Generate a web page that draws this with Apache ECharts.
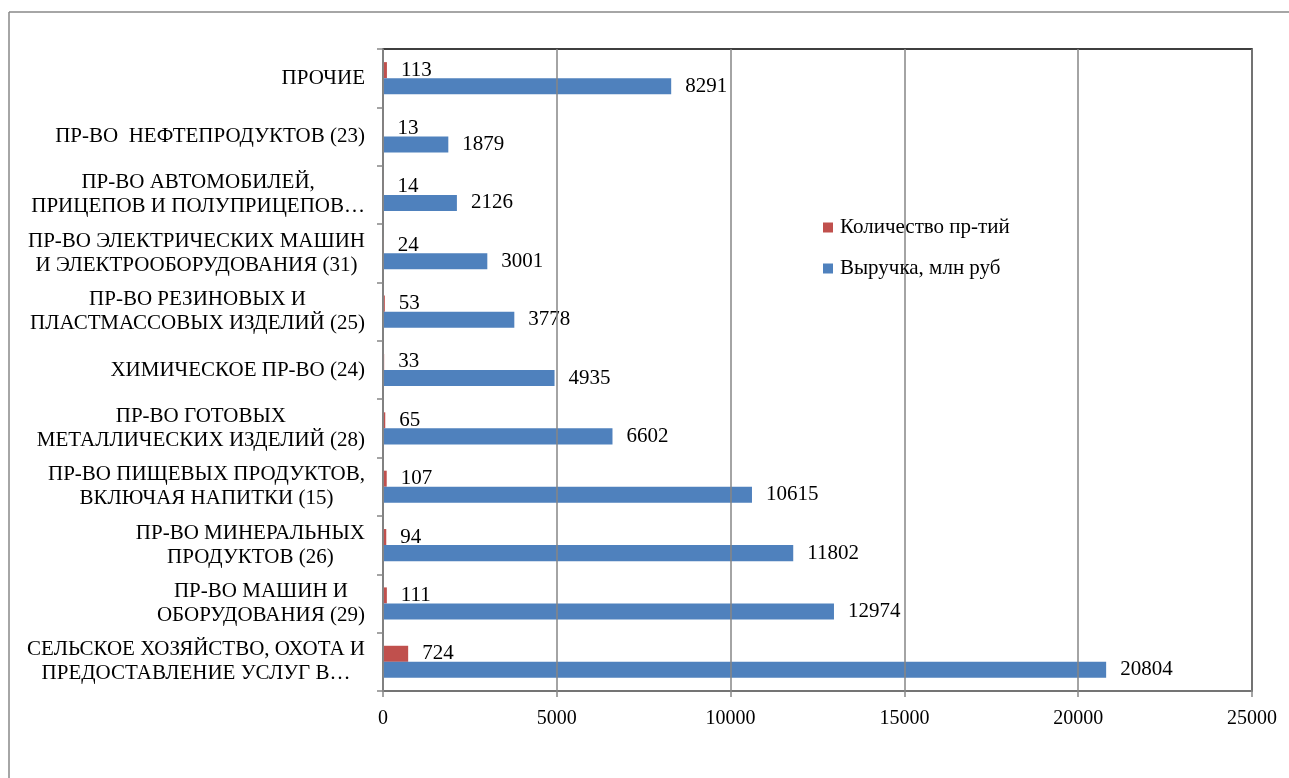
<!DOCTYPE html>
<html><head><meta charset="utf-8">
<script src="https://cdn.jsdelivr.net/npm/echarts@6/dist/echarts.min.js"></script>
<style>html,body{margin:0;padding:0;background:#fff;}#c{width:1289px;height:778px;}</style>
</head><body><div id="c"></div>
<script>
const categories = [
  'СЕЛЬСКОЕ ХОЗЯЙСТВО, ОХОТА И\nПРЕДОСТАВЛЕНИЕ УСЛУГ В…',
  'ПР-ВО МАШИН И\nОБОРУДОВАНИЯ (29)',
  'ПР-ВО МИНЕРАЛЬНЫХ\nПРОДУКТОВ (26)',
  'ПР-ВО ПИЩЕВЫХ ПРОДУКТОВ,\nВКЛЮЧАЯ НАПИТКИ (15)',
  'ПР-ВО ГОТОВЫХ\nМЕТАЛЛИЧЕСКИХ ИЗДЕЛИЙ (28)',
  'ХИМИЧЕСКОЕ ПР-ВО (24)',
  'ПР-ВО РЕЗИНОВЫХ И\nПЛАСТМАССОВЫХ ИЗДЕЛИЙ (25)',
  'ПР-ВО ЭЛЕКТРИЧЕСКИХ МАШИН\nИ ЭЛЕКТРООБОРУДОВАНИЯ (31)',
  'ПР-ВО АВТОМОБИЛЕЙ,\nПРИЦЕПОВ И ПОЛУПРИЦЕПОВ…',
  'ПР-ВО  НЕФТЕПРОДУКТОВ (23)',
  'ПРОЧИЕ'
];
const countValues = [724, 111, 94, 107, 65, 33, 53, 24, 14, 13, 113];
const revenueValues = [20804, 12974, 11802, 10615, 6602, 4935, 3778, 3001, 2126, 1879, 8291];
const countName = 'Количество пр-тий';
const revenueName = 'Выручка, млн руб';

const FONT = '"Liberation Serif", "Times New Roman", serif';
const FS = 21;
const chart = echarts.init(document.getElementById('c'), null, {renderer: 'canvas'});
const labelStyle = {show: true, position: 'right', distance: 14, color: '#000', fontFamily: FONT, fontSize: FS};
chart.setOption({
  animation: false,
  backgroundColor: '#fff',
  textStyle: {fontFamily: FONT},
  graphic: [
    {type: 'line', shape: {x1: 9, y1: 12, x2: 1289, y2: 12}, style: {stroke: '#888', lineWidth: 1.5}},
    {type: 'line', shape: {x1: 9, y1: 12, x2: 9, y2: 778}, style: {stroke: '#888', lineWidth: 1.5}}
  ],
  legend: {
    orient: 'vertical', left: 818, top: 212, itemWidth: 10, itemHeight: 10, itemGap: 20,
    data: [{name: countName, icon: 'rect'}, {name: revenueName, icon: 'rect'}],
    textStyle: {fontFamily: FONT, fontSize: FS, color: '#000', padding: [0, 0, 0, 2]}
  },
  grid: {left: 383, right: 37, top: 49, bottom: 87, show: true, borderColor: '#000', borderWidth: 1.5, containLabel: false},
  xAxis: {
    type: 'value', min: 0, max: 25000, interval: 5000, z: 3,
    axisLine: {show: true, lineStyle: {color: '#868686', width: 1.5}},
    axisTick: {show: true, length: 6, lineStyle: {color: '#868686', width: 1.5}},
    splitLine: {show: true, lineStyle: {color: '#868686', width: 1.5}},
    axisLabel: {color: '#000', fontFamily: FONT, fontSize: 20, margin: 18, formatter: v => String(v)}
  },
  yAxis: {
    type: 'category', data: categories, z: 3,
    axisLine: {show: true, lineStyle: {color: '#868686', width: 1.5}},
    axisTick: {show: true, length: 6, lineStyle: {color: '#868686', width: 1.5}},
    axisLabel: {
      color: '#000', fontFamily: FONT, fontSize: FS, margin: 18, lineHeight: 24,
      formatter: v => v.split('\n').map(l => '{c|' + l + '}').join('\n'),
      rich: {c: {align: 'center', fontFamily: FONT, fontSize: FS, lineHeight: 24, color: '#000'}}
    }
  },
  series: [
    {name: countName, type: 'bar', data: countValues, barGap: '0%', barCategoryGap: '45%',
     itemStyle: {color: '#C0504D'}, label: labelStyle},
    {name: revenueName, type: 'bar', data: revenueValues, barGap: '0%', barCategoryGap: '45%',
     itemStyle: {color: '#4F81BD'}, label: labelStyle}
  ]
});
</script></body></html>
